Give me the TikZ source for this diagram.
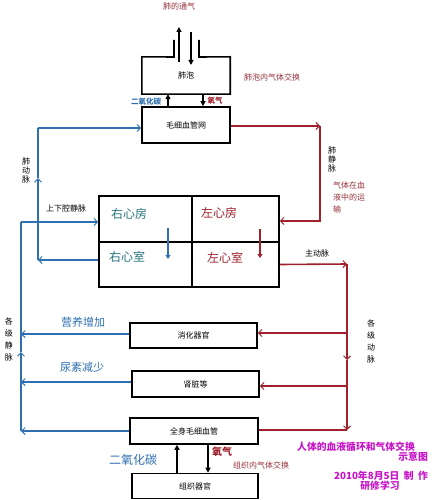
\documentclass[tikz,border=0pt]{standalone}
\usepackage{fontspec}
\newfontfamily\cjk{Noto Sans CJK SC}
\usetikzlibrary{arrows.meta,calc}
\definecolor{blueL}{RGB}{46,112,176}
\definecolor{redL}{RGB}{160,32,44}
\definecolor{textR}{RGB}{150,50,60}
\definecolor{tealT}{RGB}{40,115,125}
\definecolor{magT}{RGB}{200,20,200}
\begin{document}
\begin{tikzpicture}[x=1pt,y=-1pt,
  sm/.style={font=\cjk\fontsize{8}{9}\selectfont},
  box/.style={draw, line width=1.6pt, sm, inner sep=0pt},
  cell/.style={draw, line width=1.6pt, inner sep=0pt},
  bl/.style={draw=blueL, line width=1.8pt},
  rd/.style={draw=redL, line width=1.6pt},
  bar/.style={-{Straight Barb[length=3.5pt,width=7pt,line width=1pt]}},
  blk/.style={draw=black, line width=1.2pt, -{Triangle[length=5pt,width=5pt]}},
  vlab/.style={sm, align=center, inner sep=0pt, text width=9pt},
  heartT/.style={font=\cjk\fontsize{12}{13}\selectfont, inner sep=0pt},
  kai/.style={font=\cjk\fontsize{11}{12}\selectfont, text=blueL, inner sep=0pt},
  mag/.style={font=\cjk\bfseries\fontsize{9.8}{11}\selectfont, text=magT, inner sep=0pt}]
\useasboundingbox[fill=white] (0,0) rectangle (440,500);

% ---- boxes ----
\node[sm, minimum width=88pt, minimum height=37pt, inner sep=0pt] (alv) at (186,75.5) {肺泡};
\draw[line width=1.6pt] (174,40) -- (174,57) -- (alv.north west) -- (alv.south west)
  -- (alv.south east) -- (alv.north east) -- (199,57) -- (199,40);
\node[box, minimum width=88pt, minimum height=36pt] (cap) at (186,125) {毛细血管网};

\node[cell, minimum width=93pt, minimum height=46pt] (ra) at (145.5,219) {};
\node[cell, minimum width=87pt, minimum height=46pt] (la) at (235.5,219) {};
\node[cell, minimum width=93pt, minimum height=45pt] (rv) at (145.5,264.5) {};
\node[cell, minimum width=87pt, minimum height=45pt] (lv) at (235.5,264.5) {};
\node[heartT, text=tealT] (tra) at (129,214) {右心房};
\node[heartT, text=tealT] (trv) at (127,257) {右心室};
\node[heartT, text=redL] (tla) at (219,213) {左心房};
\node[heartT, text=redL] (tlv) at (225,258) {左心室};
\coordinate (bh1) at (168,228); \coordinate (bh2) at (168,259);
\coordinate (rh1) at (260,229); \coordinate (rh2) at (260,258);
\draw[draw=blueL, line width=2pt, -{Triangle[length=4pt,width=5pt]}] (bh1) -- (bh2);
\draw[draw=redL, line width=2pt, -{Triangle[length=4pt,width=5pt]}] (rh1) -- (rh2);

\node[box, minimum width=127pt, minimum height=25pt] (dig) at (193.5,335.5) {消化器官};
\node[box, minimum width=127pt, minimum height=26pt] (kid) at (195.5,384) {肾脏等};
\node[box, minimum width=128pt, minimum height=26pt] (bcap) at (194,431) {全身毛细血管};
\node[box, minimum width=126pt, minimum height=25pt] (tis) at (195,486) {组织器官};

% ---- top labels / black arrows ----
\node[sm, text=textR, inner sep=0pt] (vent) at (179,6) {肺的通气};
\coordinate (ua1) at (179,62); \coordinate (ua2) at (179,27);
\coordinate (da1) at (191,32); \coordinate (da2) at (191,65);
\draw[blk] (ua1) -- (ua2);
\draw[blk] (da1) -- (da2);
\node[sm, text=textR, inner sep=0pt] (alvx) at (272,77) {肺泡内气体交换};
\draw[blk] (cap.north -| 168,0) -- (alv.south -| 168,0);
\draw[blk] (alv.south -| 203,0) -- (cap.north -| 203,0);
\node[font=\cjk\bfseries\fontsize{7.5}{8}\selectfont, text=blueL, inner sep=0pt] (co2a) at (146,102) {二氧化碳};
\node[font=\cjk\bfseries\fontsize{7.5}{8}\selectfont, text=redL, inner sep=0pt] (o2a) at (215,101) {氧气};

% ---- pulmonary circulation (blue) ----
\coordinate (pa) at (38,260); \coordinate (pm) at (38,178); \coordinate (pb) at (38,128);
\draw[bl, bar] ($(rv.west)+(0,-4.5)$) -- (pa);
\draw[bl, bar] (pa) -- (pm);
\draw[bl] (pm) -- (pb);
\draw[bl, bar] (pb) -- (cap.west |- pb);
\node[vlab] (lpa) at (26,171) {肺\\动\\脉};

% ---- pulmonary vein (red) ----
\coordinate (pv1) at (320,126); \coordinate (pv2) at (320,221);
\draw[rd, bar] (cap.east |- pv1) -- (pv1);
\draw[rd, bar] (pv1) -- (pv2) -- (la.east |- pv2);
\node[vlab] (lpv) at (332,160) {肺\\静\\脉};
\node[font=\cjk\fontsize{8}{12}\selectfont, text=textR, anchor=north west, align=left, inner sep=0pt] (gas) at (333,182) {气体在血\\液中的运\\输};

% ---- venae cavae (blue) ----
\coordinate (vc) at (21,222); \coordinate (vm) at (21,352);
\coordinate (v1) at (21,334); \coordinate (v2) at (21,382); \coordinate (v3) at (21,431);
\draw[bl, bar] (vc) -- (ra.west |- vc);
\draw[bl, bar] (v3) -- (vm);
\draw[bl] (vm) -- (vc);
\draw[bl, bar] (dig.west |- v1) -- (v1);
\draw[bl, bar] (kid.west |- v2) -- (v2);
\draw[bl, bar] (bcap.west |- v3) -- (v3);
\node[sm, inner sep=0pt] (lvc) at (66,208) {上下腔静脉};
\node[vlab, font=\cjk\fontsize{8}{12}\selectfont] (lv2) at (9,339) {各\\级\\静\\脉};
\node[kai] (nut) at (83,322) {营养增加};
\node[kai] (ure) at (82,367) {尿素减少};

% ---- aorta (red) ----
\coordinate (ao1) at (347,264); \coordinate (aom) at (347,360); \coordinate (ao2) at (347,430);
\coordinate (ab1) at (347,333); \coordinate (ab2) at (347,386);
\draw[rd, bar] (lv.east) -- (ao1);
\draw[rd, bar] (ao1) -- (aom);
\draw[rd, bar] (aom) -- (ao2);
\draw[rd, bar] (ab1) -- (dig.east |- ab1);
\draw[rd, bar] (ab2) -- (kid.east |- ab2);
\draw[rd] (bcap.east |- ao2) -- (ao2);
\node[sm, inner sep=0pt] (lao) at (317,253) {主动脉};
\node[vlab, font=\cjk\fontsize{8}{12}\selectfont] (la2) at (371,341) {各\\级\\动\\脉};

% ---- tissue exchange ----
\draw[blk] (tis.north -| 177,0) -- (bcap.south -| 177,0);
\draw[blk] (bcap.south -| 208,0) -- (tis.north -| 208,0);
\node[font=\cjk\fontsize{12}{13}\selectfont, text=blueL, inner sep=0pt] (co2b) at (133,460) {二氧化碳};
\node[font=\cjk\bfseries\fontsize{10}{11}\selectfont, text=redL, inner sep=0pt] (o2b) at (222,452) {氧气};
\node[sm, text=textR, inner sep=0pt] (tisx) at (261,465) {组织内气体交换};

% ---- title ----
\node[mag] (t1) at (356,447) {人体的血液循环和气体交换};
\node[mag, anchor=east] (t2) at (428,457) {示意图};
\node[mag] (t3) at (381,476) {2010年8月5日\ \ 制\ \ 作};
\node[mag] (t4) at (380,486) {研修学习};
\end{tikzpicture}
\end{document}
